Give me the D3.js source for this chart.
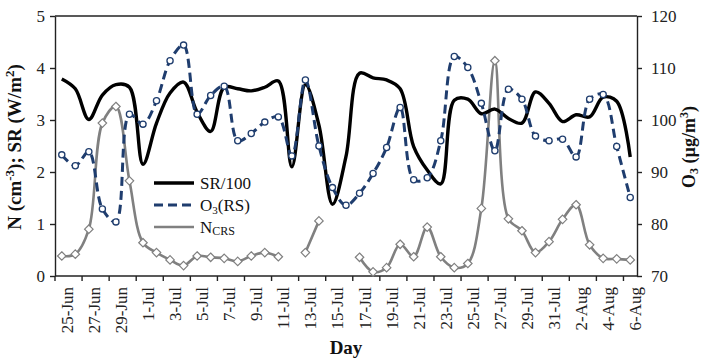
<!DOCTYPE html>
<html>
<head>
<meta charset="utf-8">
<script src="https://cdn.jsdelivr.net/npm/d3@7"></script>
<style>
  html, body { margin: 0; padding: 0; background: #fff; }
  svg { display: block; font-family: "Liberation Serif", "Times New Roman", serif; }
</style>
</head>
<body>
<svg id="chart" width="703" height="359"></svg>
<script>
// Daily categories, 25 June to 6 August
const days = [
  "25-Jun","26-Jun","27-Jun","28-Jun","29-Jun","30-Jun",
  "1-Jul","2-Jul","3-Jul","4-Jul","5-Jul","6-Jul","7-Jul","8-Jul","9-Jul","10-Jul",
  "11-Jul","12-Jul","13-Jul","14-Jul","15-Jul","16-Jul","17-Jul","18-Jul","19-Jul","20-Jul",
  "21-Jul","22-Jul","23-Jul","24-Jul","25-Jul","26-Jul","27-Jul","28-Jul","29-Jul","30-Jul",
  "31-Jul","1-Aug","2-Aug","3-Aug","4-Aug","5-Aug","6-Aug"
];

// Solar radiation / 100 (left axis)
const srValues = [
  3.79, 3.60, 3.01, 3.48, 3.68, 3.63,
  2.15, 2.94, 3.52, 3.73, 3.15, 2.78, 3.63, 3.60, 3.56, 3.63,
  3.75, 2.10, 3.68, 2.90, 1.38, 2.30, 3.90, 3.81, 3.77, 3.60,
  2.49, 2.04, 1.77, 3.38, 3.40, 3.12, 3.21, 3.03, 2.94, 3.54,
  3.32, 2.97, 3.10, 3.06, 3.44, 3.36, 2.29
];

// Ozone, µg/m³ (right axis)
const o3Values = [
  93.3, 91.2, 93.9, 82.9, 80.4, 101.1,
  99.2, 103.7, 111.4, 114.4, 101.1, 104.7, 106.5, 96.0, 97.4, 99.6,
  100.6, 93.1, 107.7, 95.0, 87.0, 83.6, 85.9, 89.7, 94.7, 102.4,
  88.5, 88.9, 96.0, 112.2, 110.1, 103.2, 94.1, 105.9, 104.0, 96.9,
  96.0, 96.3, 92.9, 104.0, 104.9, 94.9, 85.1
];

// N_CRS, cm^-3 (left axis); null = no measurement
const ncrsValues = [
  0.385, 0.42, 0.90, 2.94, 3.26, 1.83,
  0.64, 0.45, 0.31, 0.20, 0.385, 0.36, 0.34, 0.28, 0.385, 0.45,
  0.37, null, 0.45, 1.06, null, null, 0.36, 0.08, 0.16, 0.61,
  0.37, 0.94, 0.37, 0.16, 0.24, 1.30, 4.14, 1.10, 0.87, 0.45,
  0.66, 1.09, 1.37, 0.60, 0.34, 0.33, 0.31
];

const leftTicks = [0, 1, 2, 3, 4, 5];
const rightTicks = [70, 80, 90, 100, 110, 120];
const dayLabels = days.filter((d, i) => i % 2 === 0);

const plot = { left: 55, right: 637, top: 16, bottom: 276 };
const svg = d3.select("#chart");

const x = d3.scaleBand().domain(days).range([plot.left, plot.right]).padding(0);
const cx = d => x(d) + x.bandwidth() / 2;
const yL = d3.scaleLinear().domain([0, 5]).range([plot.bottom, plot.top]);
const yR = d3.scaleLinear().domain([70, 120]).range([plot.bottom, plot.top]);

const FONT = 17;

// top border of the plot area
svg.append("line")
  .attr("x1", plot.left).attr("x2", plot.right)
  .attr("y1", plot.top).attr("y2", plot.top)
  .attr("stroke", "#222").attr("stroke-width", 1.4);

// left axis
const gL = svg.append("g").attr("transform", `translate(${plot.left},0)`)
  .call(d3.axisLeft(yL).tickValues(leftTicks).tickFormat(d3.format("d"))
    .tickSize(5).tickSizeOuter(0).tickPadding(5));
// right axis
const gR = svg.append("g").attr("transform", `translate(${plot.right},0)`)
  .call(d3.axisRight(yR).tickValues(rightTicks).tickFormat(d3.format("d"))
    .tickSize(5).tickSizeOuter(0).tickPadding(9));
[gL, gR].forEach(g => {
  g.select(".domain").attr("stroke", "#222").attr("stroke-width", 1.4);
  g.selectAll(".tick line").attr("stroke", "#222").attr("stroke-width", 1.4);
  g.selectAll(".tick text").attr("font-family", "Liberation Serif, serif")
    .attr("font-size", FONT).attr("fill", "#222").attr("dy", "0.34em");
});

// bottom axis: ticks between every second day, labels rotated
const gB = svg.append("g");
gB.append("line")
  .attr("x1", plot.left).attr("x2", plot.right)
  .attr("y1", plot.bottom).attr("y2", plot.bottom)
  .attr("stroke", "#222").attr("stroke-width", 1.4);
gB.selectAll("line.tick").data(dayLabels).enter().append("line")
  .attr("class", "tick")
  .attr("x1", d => x(d)).attr("x2", d => x(d))
  .attr("y1", plot.bottom).attr("y2", plot.bottom + 5)
  .attr("stroke", "#222").attr("stroke-width", 1.4);
gB.selectAll("text").data(dayLabels).enter().append("text")
  .attr("transform", d => `translate(${cx(d) + 11},${plot.bottom + 11}) rotate(-90)`)
  .attr("text-anchor", "end")
  .attr("font-size", FONT).attr("fill", "#222")
  .text(d => d);

// series
const idx = d3.range(days.length);
const curve = d3.curveCatmullRom.alpha(0.5);

const ncrsLine = d3.line()
  .defined(i => ncrsValues[i] != null)
  .x(i => cx(days[i])).y(i => yL(ncrsValues[i])).curve(curve);
svg.append("path").attr("d", ncrsLine(idx))
  .attr("fill", "none").attr("stroke", "#808080").attr("stroke-width", 2.6);

const srLine = d3.line().x(i => cx(days[i])).y(i => yL(srValues[i])).curve(curve);
svg.append("path").attr("d", srLine(idx))
  .attr("fill", "none").attr("stroke", "#000").attr("stroke-width", 3.4);

const o3Line = d3.line().x(i => cx(days[i])).y(i => yR(o3Values[i])).curve(curve);
svg.append("path").attr("d", o3Line(idx))
  .attr("fill", "none").attr("stroke", "#1f3d6e").attr("stroke-width", 3)
  .attr("stroke-dasharray", "9,5");

// diamond markers for N_CRS
const diamond = d3.symbol().type(d3.symbolDiamond2).size(46);
svg.append("g").selectAll("path")
  .data(idx.filter(i => ncrsValues[i] != null)).enter().append("path")
  .attr("d", diamond)
  .attr("transform", i => `translate(${cx(days[i])},${yL(ncrsValues[i])})`)
  .attr("fill", "#fff").attr("stroke", "#808080").attr("stroke-width", 1.2);

// circle markers for O3
svg.append("g").selectAll("circle").data(idx).enter().append("circle")
  .attr("cx", i => cx(days[i])).attr("cy", i => yR(o3Values[i]))
  .attr("r", 3.1)
  .attr("fill", "#fff").attr("stroke", "#1f3d6e").attr("stroke-width", 1.3);

// legend
const legend = svg.append("g");
const legendRows = [
  { y: 183, stroke: "#000", width: 3.4, dash: null },
  { y: 205, stroke: "#1f3d6e", width: 3, dash: "9,5" },
  { y: 227, stroke: "#808080", width: 2.6, dash: null }
];
legendRows.forEach(r => {
  legend.append("line")
    .attr("x1", 154).attr("x2", 194).attr("y1", r.y).attr("y2", r.y)
    .attr("stroke", r.stroke).attr("stroke-width", r.width)
    .attr("stroke-dasharray", r.dash);
});
const t1 = legend.append("text").attr("x", 200).attr("y", 183).attr("dy", "0.35em")
  .attr("font-size", FONT).attr("fill", "#111");
t1.text("SR/100");
const t2 = legend.append("text").attr("x", 200).attr("y", 205).attr("dy", "0.35em")
  .attr("font-size", FONT).attr("fill", "#111");
t2.append("tspan").text("O");
t2.append("tspan").attr("font-size", 11).attr("dy", 3).text("3");
t2.append("tspan").attr("dy", -3).text("(RS)");
const t3 = legend.append("text").attr("x", 200).attr("y", 227).attr("dy", "0.35em")
  .attr("font-size", FONT).attr("fill", "#111");
t3.append("tspan").text("N");
t3.append("tspan").attr("font-size", 12).attr("dy", 2).text("CRS");

// axis titles
const TITLE = 19;
svg.append("text")
  .attr("x", (plot.left + plot.right) / 2).attr("y", 354)
  .attr("text-anchor", "middle").attr("font-weight", "bold")
  .attr("font-size", TITLE).attr("fill", "#111").text("Day");

const lt = svg.append("text")
  .attr("transform", `translate(21,147) rotate(-90)`)
  .attr("text-anchor", "middle").attr("font-weight", "bold")
  .attr("font-size", TITLE).attr("fill", "#111");
lt.append("tspan").text("N (cm");
lt.append("tspan").attr("font-size", 13).attr("dy", -7).text("-3");
lt.append("tspan").attr("dy", 7).text("); SR (W/m");
lt.append("tspan").attr("font-size", 13).attr("dy", -7).text("2");
lt.append("tspan").attr("dy", 7).text(")");

const rt = svg.append("text")
  .attr("transform", `translate(695,147) rotate(-90)`)
  .attr("text-anchor", "middle").attr("font-weight", "bold")
  .attr("font-size", 18).attr("fill", "#111");
rt.append("tspan").text("O");
rt.append("tspan").attr("font-size", 12).attr("dy", 3).text("3");
rt.append("tspan").attr("dy", -3).text(" (µg/m");
rt.append("tspan").attr("font-size", 12).attr("dy", -7).text("3");
rt.append("tspan").attr("dy", 7).text(")");
</script>
</body>
</html>
